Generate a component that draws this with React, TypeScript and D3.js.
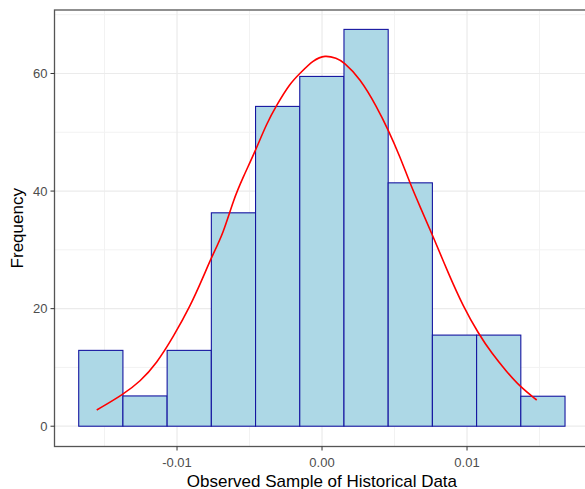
import React from "react";
import * as d3 from "d3";

// Histogram bins (left edge of first bin, bin width) and bar heights
const binStart = -0.01678;
const binWidth = 0.003049;
const barHeights = [12.9, 5.15, 12.9, 36.3, 54.4, 59.5, 67.5, 41.4, 15.5, 15.5, 5.1];

// Density-style curve points
const curveX = [
  -0.015538, -0.013703, -0.012552, -0.0114, -0.010255, -0.009103, -0.008186, -0.007607,
  -0.006807, -0.006117, -0.005428, -0.004621, -0.003814, -0.003124, -0.002207, -0.001517,
  -0.0006, 0.000207, 0.001014, 0.001469, 0.002621, 0.003772, 0.004572, 0.005379,
  0.006069, 0.006759, 0.007676, 0.00871, 0.009745, 0.010779, 0.011703, 0.012738,
  0.013655, 0.014807,
];
const curveY = [
  2.76, 5.43, 7.57, 10.7, 15.22, 20.33, 25.43, 28.83,
  32.81, 38.48, 42.44, 46.69, 51.52, 54.64, 58.33, 60.03,
  62.29, 63.14, 62.58, 62.0, 59.18, 54.35, 50.38, 45.84,
  41.32, 37.34, 32.18, 26.01, 20.33, 15.8, 12.4, 9.27,
  6.72, 4.46,
];

const xMajor = [-0.01, 0, 0.01];
const xMajorLabels = ["-0.01", "0.00", "0.01"];
const xMinor = [-0.015, -0.005, 0.005, 0.015];
const yMajor = [0, 20, 40, 60];
const yMajorLabels = ["0", "20", "40", "60"];
const yMinor = [10, 30, 50, 70];

const W = 585;
const H = 489;
const left = 54.5;
const right = 589.4;
const top = 10;
const bottom = 446.5;

export default function App() {
  const x = d3.scaleLinear().domain([-0.01845, 0.01844]).range([left, right]);
  const y = d3.scaleLinear().domain([-3.45, 70.8]).range([bottom, top]);

  const pts: [number, number][] = curveX.map((v, i) => [v, curveY[i]]);
  const line = d3
    .line<[number, number]>()
    .x((d) => x(d[0]))
    .y((d) => y(d[1]))
    .curve(d3.curveBasis);

  const font = "Arial, 'Liberation Sans', sans-serif";

  return (
    <svg
      width={W}
      height={H}
      style={{ position: "absolute", left: 0, top: 0, background: "#fff" }}
    >
      <defs>
        <clipPath id="panel">
          <rect x={left} y={top} width={right - left} height={bottom - top} />
        </clipPath>
      </defs>
      <rect x={0} y={0} width={W} height={H} fill="#fff" />
      <g clipPath="url(#panel)">
        {xMinor.map((v) => (
          <line key={"xm" + v} x1={x(v)} x2={x(v)} y1={top} y2={bottom} stroke="#F2F2F2" strokeWidth={1} />
        ))}
        {yMinor.map((v) => (
          <line key={"ym" + v} x1={left} x2={right} y1={y(v)} y2={y(v)} stroke="#F2F2F2" strokeWidth={1} />
        ))}
        {xMajor.map((v) => (
          <line key={"xM" + v} x1={x(v)} x2={x(v)} y1={top} y2={bottom} stroke="#EBEBEB" strokeWidth={1.2} />
        ))}
        {yMajor.map((v) => (
          <line key={"yM" + v} x1={left} x2={right} y1={y(v)} y2={y(v)} stroke="#EBEBEB" strokeWidth={1.2} />
        ))}
        {barHeights.map((h, i) => {
          const x0 = binStart + i * binWidth;
          const x1 = x0 + binWidth;
          return (
            <rect
              key={"b" + i}
              x={x(x0)}
              y={y(h)}
              width={x(x1) - x(x0)}
              height={y(0) - y(h)}
              fill="#ADD8E6"
              stroke="#1515A0"
              strokeWidth={1.1}
            />
          );
        })}
        <path d={line(pts) || ""} fill="none" stroke="#FF0000" strokeWidth={1.6} />
      </g>
      <rect
        x={left}
        y={top}
        width={right - left + 10}
        height={bottom - top}
        fill="none"
        stroke="#555"
        strokeWidth={1.3}
      />
      {xMajor.map((v, i) => (
        <g key={"xt" + v}>
          <line x1={x(v)} x2={x(v)} y1={bottom} y2={bottom + 4} stroke="#333" strokeWidth={1} />
          <text
            x={x(v)}
            y={bottom + 20}
            textAnchor="middle"
            fontFamily={font}
            fontSize={13}
            fill="#4D4D4D"
          >
            {xMajorLabels[i]}
          </text>
        </g>
      ))}
      {yMajor.map((v, i) => (
        <g key={"yt" + v}>
          <line x1={left - 4} x2={left} y1={y(v)} y2={y(v)} stroke="#333" strokeWidth={1} />
          <text
            x={left - 7}
            y={y(v)}
            dy="0.35em"
            textAnchor="end"
            fontFamily={font}
            fontSize={13}
            fill="#4D4D4D"
          >
            {yMajorLabels[i]}
          </text>
        </g>
      ))}
      <text
        x={(left + right) / 2}
        y={486.5}
        textAnchor="middle"
        fontFamily={font}
        fontSize={17}
        fill="#000"
      >
        Observed Sample of Historical Data
      </text>
      <text
        transform={`translate(22.5, ${(top + bottom) / 2}) rotate(-90)`}
        textAnchor="middle"
        fontFamily={font}
        fontSize={17}
        fill="#000"
      >
        Frequency
      </text>
    </svg>
  );
}
